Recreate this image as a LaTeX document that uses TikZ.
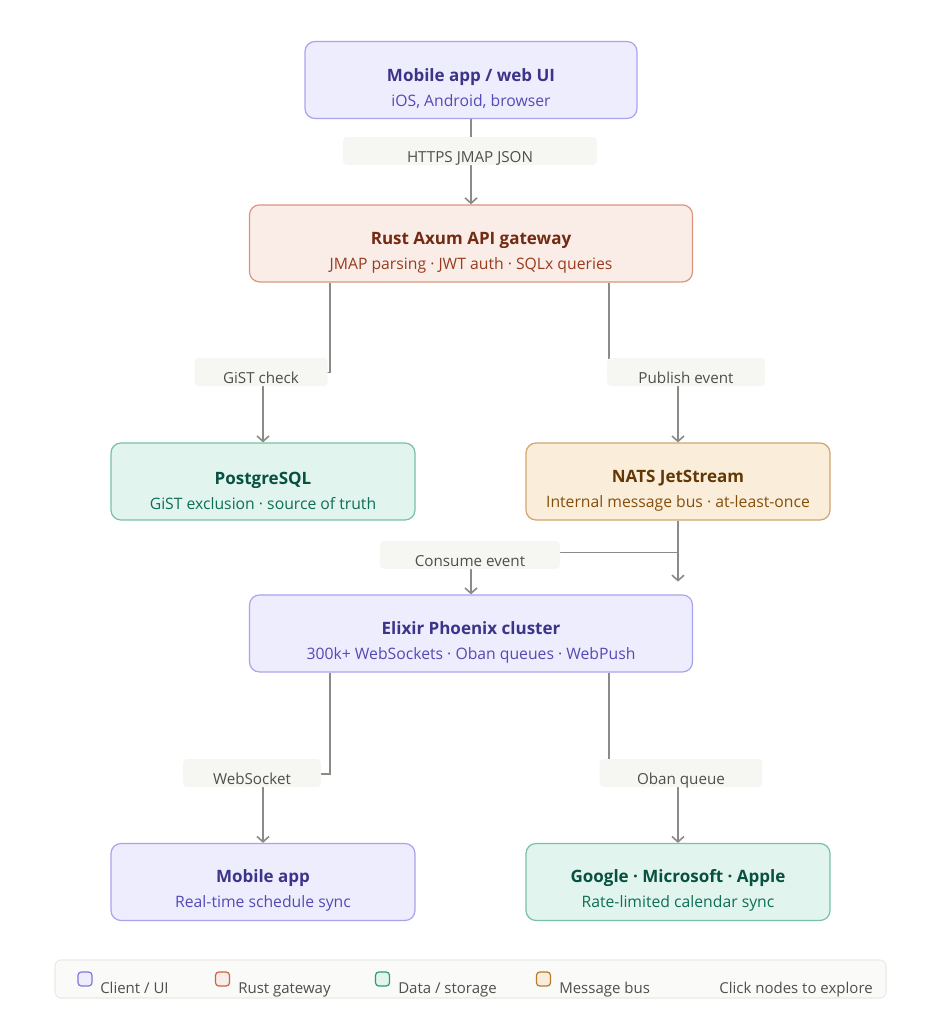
\documentclass[tikz,border=0pt]{standalone}
\usepackage{fontspec}
\setmainfont{Open Sans}
\usepackage{xcolor}
\usetikzlibrary{positioning,arrows.meta,calc}
\definecolor{cPurF}{HTML}{EEEDFE}
\definecolor{cPurL}{HTML}{A9A3EE}
\definecolor{cPurD}{HTML}{7F77DD}
\definecolor{cPurS}{HTML}{534AB7}
\definecolor{cPurT}{HTML}{3C3489}
\definecolor{cCorF}{HTML}{FAECE7}
\definecolor{cCorL}{HTML}{DA957C}
\definecolor{cCorD}{HTML}{CC6444}
\definecolor{cCorS}{HTML}{993C1D}
\definecolor{cCorT}{HTML}{712B13}
\definecolor{cTeaF}{HTML}{E1F5EE}
\definecolor{cTeaL}{HTML}{79C0A4}
\definecolor{cTeaD}{HTML}{2F9A78}
\definecolor{cTeaS}{HTML}{0F6E56}
\definecolor{cTeaT}{HTML}{085041}
\definecolor{cAmbF}{HTML}{FAEEDA}
\definecolor{cAmbL}{HTML}{D1A56D}
\definecolor{cAmbD}{HTML}{B7792A}
\definecolor{cAmbS}{HTML}{854F0B}
\definecolor{cAmbT}{HTML}{633806}
\definecolor{cEdge}{HTML}{8A8A86}
\definecolor{cLblF}{HTML}{F6F6F3}
\definecolor{cLblT}{HTML}{4F4F4A}
\definecolor{cLegF}{HTML}{FAFAF8}
\definecolor{cLegL}{HTML}{EAEAE6}

\begin{document}
\begin{tikzpicture}[x=0.75pt,y=-0.75pt,
  box/.style={rounded corners=7.5pt,draw,line width=0.9pt,align=center,
              inner sep=0pt,minimum height=57.75pt,
              font=\fontsize{11.8}{18.75}\selectfont},
  wide/.style={box,minimum width=332.25pt},
  side/.style={box,minimum width=228pt},
  edge/.style={draw=cEdge,line width=1.2pt,-{Straight Barb[length=4pt,width=9pt]}},
  lbl/.style={fill=cLblF,rounded corners=3pt,inner xsep=0pt,inner ysep=0pt,
              text height=19pt,text depth=2pt,text=cLblT,
              font=\fontsize{11.4}{13}\selectfont},
  swatch/.style={draw,line width=0.9pt,rounded corners=2.5pt,
                 minimum size=10.5pt,inner sep=0pt},
  legtxt/.style={anchor=base west,inner sep=0pt,text=cLblT,
                 font=\fontsize{11.25}{13}\selectfont}]

\useasboundingbox (0,0) rectangle (941,1024);

% nodes
\node[box,minimum width=249pt,draw=cPurL,fill=cPurF] (client) at (471,80)
  {{\fontsize{12.75}{18.75}\selectfont\bfseries\color{cPurT}\rule{0pt}{23pt}Mobile app / web UI}\\
   {\color{cPurS}iOS, Android, browser}};

\node[wide,draw=cCorL,fill=cCorF,below=63.9pt of client] (gw)
  {{\fontsize{12.75}{18.75}\selectfont\bfseries\color{cCorT}\rule{0pt}{23pt}Rust Axum API gateway}\\
   {\color{cCorS}JMAP parsing · JWT auth · SQLx queries}};

\node[side,draw=cTeaL,fill=cTeaF] (pg) at (263,481.5)
  {{\fontsize{12.75}{18.75}\selectfont\bfseries\color{cTeaT}\rule{0pt}{23pt}PostgreSQL}\\
   {\color{cTeaS}GiST exclusion · source of truth}};

\node[side,draw=cAmbL,fill=cAmbF] (nats) at (678,481.5)
  {{\fontsize{12.75}{18.75}\selectfont\bfseries\color{cAmbT}\rule{0pt}{23pt}NATS JetStream}\\
   {\color{cAmbS}Internal message bus · at-least-once}};

\node[wide,draw=cPurL,fill=cPurF,below=233.9pt of gw] (phx)
  {{\fontsize{12.75}{18.75}\selectfont\bfseries\color{cPurT}\rule{0pt}{23pt}Elixir Phoenix cluster}\\
   {\color{cPurS}300k+ WebSockets · Oban queues · WebPush}};

\node[side,draw=cPurL,fill=cPurF] (mob) at (263,882)
  {{\fontsize{12.75}{18.75}\selectfont\bfseries\color{cPurT}\rule{0pt}{23pt}Mobile app}\\
   {\color{cPurS}Real-time schedule sync}};

\node[side,draw=cTeaL,fill=cTeaF] (cal) at (678,882)
  {{\fontsize{12.75}{18.75}\selectfont\bfseries\color{cTeaT}\rule{0pt}{23pt}Google · Microsoft · Apple}\\
   {\color{cTeaS}Rate-limited calendar sync}};

% connectors
\coordinate (natsEnd) at ($(nats.south)+(0,61)$);
\draw[edge] (client) -- (gw);
\draw[edge] ($(gw.south west)+(81,0)$) |- ($(pg.north)+(0,-70)$) -- (pg.north);
\draw[edge] ($(gw.south east)+(-84,0)$) |- ($(nats.north)+(0,-70)$) -- (nats.north);
\draw[edge] (nats.south) -- ++(0,32) -| (phx.north);
\draw[edge] (nats.south) -- (natsEnd);
\draw[edge] ($(phx.south west)+(81,0)$) |- ($(mob.north)+(0,-69)$) -- (mob.north);
\draw[edge] ($(phx.south east)+(-84,0)$) |- ($(cal.north)+(0,-71)$) -- (cal.north);

% edge labels
\node[lbl,minimum width=190.5pt] (lHttps) at (470,151) {HTTPS JMAP JSON};
\node[lbl,minimum width=99.75pt] (lGist) at (261,372) {GiST check};
\node[lbl,minimum width=118.5pt] (lPub) at (686,372) {Publish event};
\node[lbl,minimum width=135pt] (lCons) at (470,555) {Consume event};
\node[lbl,minimum width=103.5pt] (lWs) at (252,773) {WebSocket};
\node[lbl,minimum width=122pt] (lOban) at (681,773) {Oban queue};

% legend
\node[draw=cLegL,fill=cLegF,line width=0.8pt,rounded corners=4.5pt,
      minimum width=623.25pt,minimum height=28.5pt,inner sep=0pt] (legend) at (470.5,979) {};
\node[swatch,draw=cPurD,fill=cPurF] (swUI) at (85,979) {};
\node[legtxt] (tUI) at (100,993) {Client / UI};
\node[swatch,draw=cCorD,fill=cCorF] (swGw) at (222.5,979) {};
\node[legtxt] (tGw) at (238,993) {Rust gateway};
\node[swatch,draw=cTeaD,fill=cTeaF] (swData) at (382.5,979) {};
\node[legtxt] (tData) at (398,993) {Data / storage};
\node[swatch,draw=cAmbD,fill=cAmbF] (swBus) at (543.5,979) {};
\node[legtxt] (tBus) at (559,993) {Message bus};
\node[legtxt,anchor=base east] (tClick) at (873,993) {Click nodes to explore};
\end{tikzpicture}
\end{document}
